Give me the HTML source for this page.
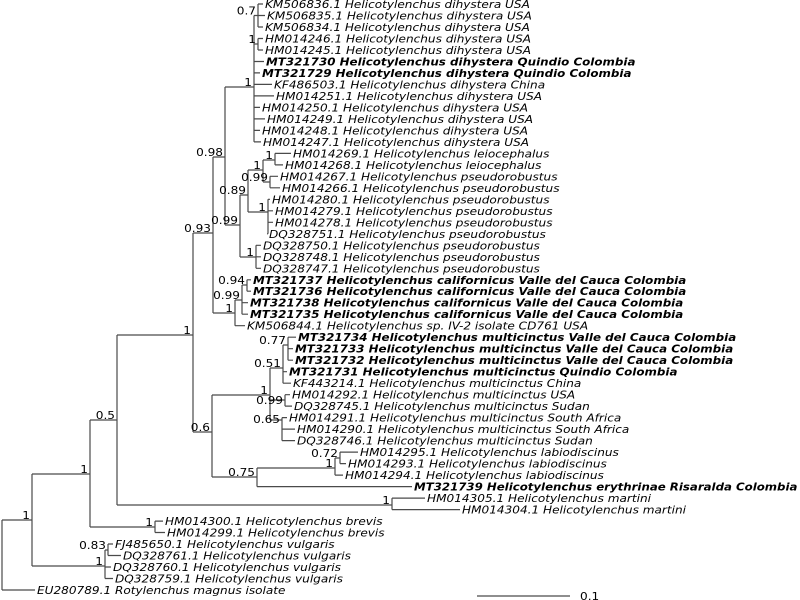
<!DOCTYPE html>
<html><head><meta charset="utf-8"><style>
html,body{margin:0;padding:0;background:#fff;width:800px;height:600px;overflow:hidden}
svg{display:block}
.l{font-family:"DejaVu Sans","Liberation Sans",sans-serif;font-size:11px;font-style:italic;fill:#000}
.b{font-weight:bold}
.n{font-family:"DejaVu Sans","Liberation Sans",sans-serif;font-size:11px;fill:#000;text-anchor:end}
path{stroke:#4a4a4a;stroke-width:1.2;fill:none}
</style></head><body>
<svg width="800" height="600" viewBox="0 0 800 600" xmlns="http://www.w3.org/2000/svg">
<path d="
M258 4V27M254 15.5H258
M258 38.5V50M254 44H258
M254 15.5V141.9M225 87H254
M225 87V225M213 157H225
M240 195V257M225 225H240
M248 170V212M240 195H248
M263 160V182M248 170H263
M275 153.4V164.9M263 160H275
M270 176.3V187.8M263 182H270
M268 199.3V233.8M248 212H268
M256 245.3V268.3M240 257H256
M213 157V313M193 233H213
M235 300V325.7M213 313H235
M242 285V314.2M235 300H242
M247 279.8V291.2M242 285H247
M193 233V432M117 335H193
M212 395V477M193 432H212
M270 368V420M212 395H270
M283 345V383.2M270 368H283
M288 337.2V360.2M283 345H288
M285 394.7V406.1M270 400H285
M282 417.6V440.6M270 420H282
M257 468V486.6M212 477H257
M335 458V475.1M257 468H335
M340 452.1V463.6M335 458H340
M117 335V505M90 420H117
M392 498.1V509.6M117 505H392
M90 420V527M32 474H90
M155 521.1V532.5M90 527H155
M32 474V566M2 520H32
M105 550V578.5M32 566H105
M108 544V555.5M105 550H108
M2 520V590
M258 4H263M258 15.5H265M258 27H263M258 38.5H263M258 50H263
M254 61.5H264M254 72.9H260M254 84.4H272M254 95.9H274M254 107.4H260M254 118.9H265M254 130.4H260M254 141.9H261
M275 153.4H291M275 164.9H283M270 176.3H278M270 187.8H280
M268 199.3H270M268 210.8H273M268 222.3H273M268 233.8H267
M256 245.3H261M256 256.8H261M256 268.3H261
M247 279.8H251M247 291.2H251M242 302.7H248M242 314.2H248M235 325.7H245
M288 337.2H296M288 348.7H293M288 360.2H293M283 371.7H287M283 383.2H291
M285 394.7H290M285 406.1H292M282 417.6H287M282 429.1H295M282 440.6H295
M340 452.1H358M340 463.6H346M335 475.1H343M257 486.6H412
M392 498.1H425M392 509.6H460M155 521.1H163M155 532.5H165
M108 544H113M108 555.5H121M105 567H111M105 578.5H113M2 590H35
M477 596H570
"/>
<g class="l">
<text transform="translate(265,8) scale(1.1 1)">KM506836.1 Helicotylenchus dihystera USA</text>
<text transform="translate(267,19.5) scale(1.1 1)">KM506835.1 Helicotylenchus dihystera USA</text>
<text transform="translate(265,31) scale(1.1 1)">KM506834.1 Helicotylenchus dihystera USA</text>
<text transform="translate(265,42.5) scale(1.1 1)">HM014246.1 Helicotylenchus dihystera USA</text>
<text transform="translate(265,54) scale(1.1 1)">HM014245.1 Helicotylenchus dihystera USA</text>
<text class="b" transform="translate(266,65.5) scale(1.08 1)">MT321730 Helicotylenchus dihystera Quindio Colombia</text>
<text class="b" transform="translate(262,76.9) scale(1.08 1)">MT321729 Helicotylenchus dihystera Quindio Colombia</text>
<text transform="translate(274,88.4) scale(1.1 1)">KF486503.1 Helicotylenchus dihystera China</text>
<text transform="translate(276,99.9) scale(1.1 1)">HM014251.1 Helicotylenchus dihystera USA</text>
<text transform="translate(262,111.4) scale(1.1 1)">HM014250.1 Helicotylenchus dihystera USA</text>
<text transform="translate(267,122.9) scale(1.1 1)">HM014249.1 Helicotylenchus dihystera USA</text>
<text transform="translate(262,134.4) scale(1.1 1)">HM014248.1 Helicotylenchus dihystera USA</text>
<text transform="translate(263,145.9) scale(1.1 1)">HM014247.1 Helicotylenchus dihystera USA</text>
<text transform="translate(293,157.4) scale(1.1 1)">HM014269.1 Helicotylenchus leiocephalus</text>
<text transform="translate(285,168.9) scale(1.1 1)">HM014268.1 Helicotylenchus leiocephalus</text>
<text transform="translate(280,180.3) scale(1.1 1)">HM014267.1 Helicotylenchus pseudorobustus</text>
<text transform="translate(282,191.8) scale(1.1 1)">HM014266.1 Helicotylenchus pseudorobustus</text>
<text transform="translate(272,203.3) scale(1.1 1)">HM014280.1 Helicotylenchus pseudorobustus</text>
<text transform="translate(275,214.8) scale(1.1 1)">HM014279.1 Helicotylenchus pseudorobustus</text>
<text transform="translate(275,226.3) scale(1.1 1)">HM014278.1 Helicotylenchus pseudorobustus</text>
<text transform="translate(269,237.8) scale(1.1 1)">DQ328751.1 Helicotylenchus pseudorobustus</text>
<text transform="translate(263,249.3) scale(1.1 1)">DQ328750.1 Helicotylenchus pseudorobustus</text>
<text transform="translate(263,260.8) scale(1.1 1)">DQ328748.1 Helicotylenchus pseudorobustus</text>
<text transform="translate(263,272.3) scale(1.1 1)">DQ328747.1 Helicotylenchus pseudorobustus</text>
<text class="b" transform="translate(253,283.8) scale(1.08 1)">MT321737 Helicotylenchus californicus Valle del Cauca Colombia</text>
<text class="b" transform="translate(253,295.2) scale(1.08 1)">MT321736 Helicotylenchus californicus Valle del Cauca Colombia</text>
<text class="b" transform="translate(250,306.7) scale(1.08 1)">MT321738 Helicotylenchus californicus Valle del Cauca Colombia</text>
<text class="b" transform="translate(250,318.2) scale(1.08 1)">MT321735 Helicotylenchus californicus Valle del Cauca Colombia</text>
<text transform="translate(247,329.7) scale(1.1 1)">KM506844.1 Helicotylenchus sp. IV-2 isolate CD761 USA</text>
<text class="b" transform="translate(298,341.2) scale(1.08 1)">MT321734 Helicotylenchus multicinctus Valle del Cauca Colombia</text>
<text class="b" transform="translate(295,352.7) scale(1.08 1)">MT321733 Helicotylenchus multicinctus Valle del Cauca Colombia</text>
<text class="b" transform="translate(295,364.2) scale(1.08 1)">MT321732 Helicotylenchus multicinctus Valle del Cauca Colombia</text>
<text class="b" transform="translate(289,375.7) scale(1.08 1)">MT321731 Helicotylenchus multicinctus Quindio Colombia</text>
<text transform="translate(293,387.2) scale(1.1 1)">KF443214.1 Helicotylenchus multicinctus China</text>
<text transform="translate(292,398.7) scale(1.1 1)">HM014292.1 Helicotylenchus multicinctus USA</text>
<text transform="translate(294,410.1) scale(1.1 1)">DQ328745.1 Helicotylenchus multicinctus Sudan</text>
<text transform="translate(289,421.6) scale(1.1 1)">HM014291.1 Helicotylenchus multicinctus South Africa</text>
<text transform="translate(297,433.1) scale(1.1 1)">HM014290.1 Helicotylenchus multicinctus South Africa</text>
<text transform="translate(297,444.6) scale(1.1 1)">DQ328746.1 Helicotylenchus multicinctus Sudan</text>
<text transform="translate(360,456.1) scale(1.1 1)">HM014295.1 Helicotylenchus labiodiscinus</text>
<text transform="translate(348,467.6) scale(1.1 1)">HM014293.1 Helicotylenchus labiodiscinus</text>
<text transform="translate(345,479.1) scale(1.1 1)">HM014294.1 Helicotylenchus labiodiscinus</text>
<text class="b" transform="translate(414,490.6) scale(1.07 1)">MT321739 Helicotylenchus erythrinae Risaralda Colombia</text>
<text transform="translate(427,502.1) scale(1.1 1)">HM014305.1 Helicotylenchus martini</text>
<text transform="translate(462,513.6) scale(1.1 1)">HM014304.1 Helicotylenchus martini</text>
<text transform="translate(165,525.1) scale(1.1 1)">HM014300.1 Helicotylenchus brevis</text>
<text transform="translate(167,536.5) scale(1.1 1)">HM014299.1 Helicotylenchus brevis</text>
<text transform="translate(115,548) scale(1.1 1)">FJ485650.1 Helicotylenchus vulgaris</text>
<text transform="translate(123,559.5) scale(1.1 1)">DQ328761.1 Helicotylenchus vulgaris</text>
<text transform="translate(113,571) scale(1.1 1)">DQ328760.1 Helicotylenchus vulgaris</text>
<text transform="translate(115,582.5) scale(1.1 1)">DQ328759.1 Helicotylenchus vulgaris</text>
<text transform="translate(37,594) scale(1.1 1)">EU280789.1 Rotylenchus magnus isolate</text>
</g>
<g class="n">
<text transform="translate(256,14.5) scale(1.1 1)">0.7</text>
<text transform="translate(256,43) scale(1.1 1)">1</text>
<text transform="translate(252,86) scale(1.1 1)">1</text>
<text transform="translate(223,156) scale(1.1 1)">0.98</text>
<text transform="translate(238,224) scale(1.1 1)">0.99</text>
<text transform="translate(246,194) scale(1.1 1)">0.89</text>
<text transform="translate(261,169) scale(1.1 1)">1</text>
<text transform="translate(273,159) scale(1.1 1)">1</text>
<text transform="translate(268,181) scale(1.1 1)">0.99</text>
<text transform="translate(266,211) scale(1.1 1)">1</text>
<text transform="translate(254,256) scale(1.1 1)">1</text>
<text transform="translate(211,232) scale(1.1 1)">0.93</text>
<text transform="translate(233,312) scale(1.1 1)">1</text>
<text transform="translate(240,299) scale(1.1 1)">0.99</text>
<text transform="translate(245,284) scale(1.1 1)">0.94</text>
<text transform="translate(191,334) scale(1.1 1)">1</text>
<text transform="translate(210,431) scale(1.1 1)">0.6</text>
<text transform="translate(268,394) scale(1.1 1)">1</text>
<text transform="translate(281,367) scale(1.1 1)">0.51</text>
<text transform="translate(286,344) scale(1.1 1)">0.77</text>
<text transform="translate(283,404) scale(1.1 1)">0.99</text>
<text transform="translate(280,423) scale(1.1 1)">0.65</text>
<text transform="translate(255,476) scale(1.1 1)">0.75</text>
<text transform="translate(333,467) scale(1.1 1)">1</text>
<text transform="translate(338,457) scale(1.1 1)">0.72</text>
<text transform="translate(115,419) scale(1.1 1)">0.5</text>
<text transform="translate(390,504) scale(1.1 1)">1</text>
<text transform="translate(88,473) scale(1.1 1)">1</text>
<text transform="translate(153,526) scale(1.1 1)">1</text>
<text transform="translate(30,519) scale(1.1 1)">1</text>
<text transform="translate(103,565) scale(1.1 1)">1</text>
<text transform="translate(106,549) scale(1.1 1)">0.83</text>
<text style="text-anchor:start" transform="translate(580,600) scale(1.1 1)">0.1</text>
</g>
</svg>
</body></html>
